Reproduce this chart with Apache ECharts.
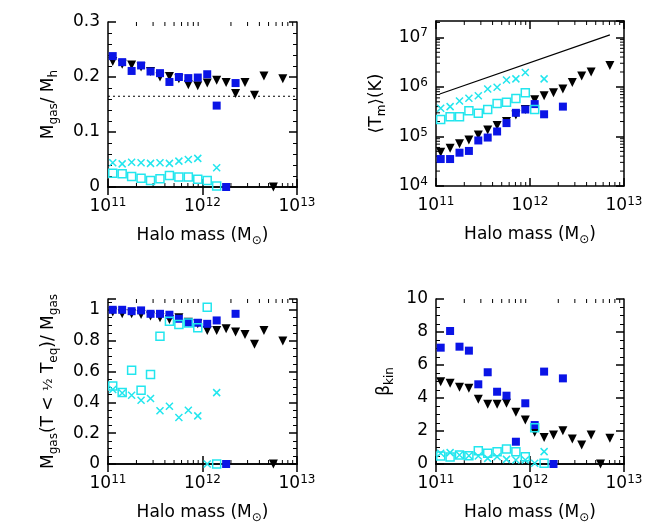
<!DOCTYPE html>
<html>
<head>
<meta charset="UTF-8">
<script src="https://cdn.jsdelivr.net/npm/echarts@6/dist/echarts.min.js"></script>
<style>
  body { margin: 0; background: #fff; }
  #chart { width: 660px; height: 529px; }
</style>
</head>
<body>
<div id="chart"></div>
<script>
// halo mass bins, log10(M/Msun)
var logMass = [11.05, 11.15, 11.25, 11.35, 11.45, 11.55, 11.65, 11.75, 11.85, 11.95,
               12.05, 12.15, 12.25, 12.35, 12.45, 12.55, 12.65, 12.75, 12.85];

// panel 1: Mgas / Mh
var fgasTri   = [0.228, 0.223, 0.222, 0.218, 0.210, 0.200, 0.201, 0.197, 0.186, 0.184, 0.189, 0.194, 0.190, 0.170, 0.190, 0.167, 0.202, 0.0, 0.197];
var fgasBlue  = [0.238, 0.227, 0.211, 0.221, 0.210, 0.207, 0.191, 0.200, 0.198, 0.199, 0.205, 0.148, 0.0, 0.189];
var fgasCross = [0.044, 0.042, 0.045, 0.044, 0.043, 0.044, 0.043, 0.047, 0.050, 0.052, null, 0.035];
var fgasOpen  = [0.025, 0.024, 0.019, 0.016, 0.012, 0.015, 0.021, 0.018, 0.018, 0.014, 0.012, 0.002];
var baryonFrac = 0.165;

// panel 2: <Tm> (K)
var tTri   = [4.8e4, 5.8e4, 7.1e4, 8.5e4, 1.07e5, 1.35e5, 1.66e5, 2.0e5, 2.7e5, 3.5e5, 5.5e5, 6.6e5, 7.6e5, 9.1e5, 1.23e6, 1.66e6, 2.0e6, null, 2.7e6];
var tBlue  = [3.5e4, 3.5e4, 4.7e4, 5.1e4, 8.3e4, 9.5e4, 1.26e5, 1.86e5, 3.0e5, 3.5e5, 4.5e5, 2.8e5, null, 4.0e5];
var tCross = [3.7e5, 4.0e5, 5.2e5, 5.9e5, 6.6e5, 9.1e5, 9.8e5, 1.38e6, 1.45e6, 1.95e6, null, 1.45e6];
var tOpen  = [2.2e5, 2.5e5, 2.5e5, 3.3e5, 2.95e5, 3.5e5, 4.6e5, 4.9e5, 5.8e5, 7.6e5, 3.5e5];
var tVirMass = [11.04, 12.85];
var tVir     = [7.2e5, 1.12e7];

// panel 3: Mgas(T < Teq/2) / Mgas
var coldTri   = [0.985, 0.974, 0.974, 0.970, 0.959, 0.948, 0.937, 0.948, 0.920, 0.909, 0.866, 0.866, 0.877, 0.856, 0.840, 0.776, 0.866, 0.0, 0.797];
var coldBlue  = [1.0, 1.0, 0.991, 0.996, 0.974, 0.974, 0.968, 0.942, 0.916, 0.916, 0.909, 0.931, 0.0, 0.974];
var coldCross = [0.483, 0.461, 0.446, 0.414, 0.425, 0.345, 0.375, 0.302, 0.349, 0.312, 0.0, 0.463];
var coldOpen  = [0.506, 0.463, 0.608, 0.478, 0.580, 0.828, 0.925, 0.905, 0.914, 0.884, 1.017, 0.0];

// panel 4: beta_kin
var betaTri   = [4.99, 4.89, 4.65, 4.59, 3.92, 3.62, 3.62, 3.68, 3.13, 2.67, 1.92, 1.60, 1.76, 2.02, 1.52, 1.15, 1.76, 0.0, 1.56];
var betaBlue  = [7.05, 8.06, 7.11, 6.87, 4.83, 5.56, 4.38, 4.14, 1.35, 3.68, 2.36, 5.60, 0.0, 5.19];
var betaCross = [0.65, 0.69, 0.55, 0.50, 0.48, 0.34, 0.44, 0.28, 0.24, 0.24, 0.04, 0.75];
var betaOpen  = [0.48, 0.42, 0.55, 0.50, 0.81, 0.65, 0.75, 0.91, 0.75, 0.44, 2.20, 0.04];

var FONT = 'DejaVu Sans';
var CYAN = '#22e6ee', BLUE = '#0a14e6';
var crossPath = 'path://M0,0L10,10M10,0L0,10';
var sup = { fontSize: 12, verticalAlign: 'top', padding: [0, 0, 8, 0], fontFamily: FONT, color: '#000' };
var sub = { fontSize: 12, verticalAlign: 'bottom', padding: [10, 0, 0, 0], fontFamily: FONT, color: '#000' };

var grids = [
  { left: 108, top: 22, width: 189, height: 165 },
  { left: 436, top: 21, width: 188, height: 165 },
  { left: 108, top: 299, width: 189, height: 165 },
  { left: 436, top: 299, width: 188, height: 165 }
];

function log10(v) { return v == null ? null : Math.log10(v); }
function pairs(ys, isLog) {
  var out = [];
  for (var i = 0; i < ys.length; i++) {
    if (ys[i] == null) continue;
    out.push([logMass[i], isLog ? log10(ys[i]) : ys[i]]);
  }
  return out;
}

var xAxes = [], yAxes = [], series = [];
var yCfg = [
  { min: 0, max: 0.3, interval: 0.1, minor: 5, log: false, fmt: function (v) { return +v.toFixed(1) + ''; },
    name: 'M{s|gas}/ M{s|h}', gap: 48 },
  { min: 4, max: 7.33, interval: 1, log: true, fmt: function (v) { return '10{u|' + v + '}'; },
    name: '⟨T{s|m}⟩(K)', gap: 48 },
  { min: 0, max: 1.07, interval: 0.2, minor: 4, log: false, fmt: function (v) { return +v.toFixed(1) + ''; },
    name: 'M{s|gas}(T < {f|½} T{s|eq})/ M{s|gas}', gap: 48 },
  { min: 0, max: 10, interval: 2, minor: 4, log: false, fmt: function (v) { return v + ''; },
    name: 'β{s|kin}', gap: 40 }
];

for (var g = 0; g < 4; g++) {
  var c = yCfg[g];
  var lineStyle = { color: '#000', width: 1.5 };
  xAxes.push({
    gridIndex: g, type: 'value', min: 11, max: 13, interval: 1,
    name: 'Halo mass (M{s|⊙})', nameLocation: 'middle', nameGap: 38,
    nameTextStyle: { fontFamily: FONT, fontSize: 17, color: '#000', rich: { s: sub } },
    axisLine: { lineStyle: lineStyle }, splitLine: { show: false },
    axisTick: { inside: true, length: 8, lineStyle: lineStyle },
    axisLabel: { margin: 10, fontFamily: FONT, fontSize: 17, color: '#000',
      formatter: function (v) { return '10{u|' + v + '}'; }, rich: { u: sup } }
  });
  xAxes.push({
    gridIndex: g, type: 'value', min: 11, max: 13, interval: 1, position: 'top',
    axisLine: { lineStyle: lineStyle }, splitLine: { show: false },
    axisTick: { inside: true, length: 8, lineStyle: lineStyle }, axisLabel: { show: false }
  });
  var yBase = {
    gridIndex: g, type: 'value', min: c.min, max: c.max, interval: c.interval,
    axisLine: { lineStyle: lineStyle }, splitLine: { show: false },
    axisTick: { inside: true, length: 8, lineStyle: lineStyle },
    minorTick: c.minor ? { show: true, splitNumber: c.minor, length: 4, lineStyle: { color: '#000', width: 1 } } : { show: false },
    minorSplitLine: { show: false }
  };
  yAxes.push(Object.assign({}, yBase, {
    name: c.name, nameLocation: 'middle', nameGap: c.gap, nameRotate: 90,
    nameTextStyle: { fontFamily: FONT, fontSize: 17, color: '#000', rich: { s: sub, f: { fontSize: 13, fontFamily: FONT, color: '#000' } } },
    axisLabel: { margin: 8, fontFamily: FONT, fontSize: 17, color: '#000', formatter: c.fmt, rich: { u: sup },
      showMaxLabel: c.max === 0.3 || c.max === 10 }
  }));
  yAxes.push(Object.assign({}, yBase, { position: 'right', axisLabel: { show: false } }));
}

// log minor ticks drawn with a custom series
function minorTicks(axisIdx, yLog, yMin, yMax) {
  var ticks = [];
  for (var d = 11; d < 13; d++) for (var k = 2; k <= 9; k++) ticks.push([d + Math.log10(k), yAxes[axisIdx * 2].min, 0]);
  if (yLog) for (var e = Math.floor(yMin); e < yMax; e++) for (var m = 2; m <= 9; m++) {
    var v = e + Math.log10(m); if (v < yMax) ticks.push([11, v, 1]);
  }
  return {
    type: 'custom', xAxisIndex: axisIdx * 2, yAxisIndex: axisIdx * 2, silent: true, z: 1, clip: false,
    data: ticks,
    renderItem: function (params, api) {
      var cs = params.coordSys, L = 4, st = { stroke: '#000', lineWidth: 1 };
      var pt = api.coord([api.value(0), api.value(1)]);
      if (api.value(2) === 0) {
        var px = pt[0];
        return { type: 'group', children: [
          { type: 'line', shape: { x1: px, y1: cs.y + cs.height, x2: px, y2: cs.y + cs.height - L }, style: st },
          { type: 'line', shape: { x1: px, y1: cs.y, x2: px, y2: cs.y + L }, style: st }
        ] };
      }
      var py = pt[1];
      return { type: 'group', children: [
        { type: 'line', shape: { x1: cs.x, y1: py, x2: cs.x + L, y2: py }, style: st },
        { type: 'line', shape: { x1: cs.x + cs.width, y1: py, x2: cs.x + cs.width - L, y2: py }, style: st }
      ] };
    }
  };
}

var panels = [
  { tri: fgasTri, blue: fgasBlue, cross: fgasCross, open: fgasOpen, log: false },
  { tri: tTri, blue: tBlue, cross: tCross, open: tOpen, log: true },
  { tri: coldTri, blue: coldBlue, cross: coldCross, open: coldOpen, log: false },
  { tri: betaTri, blue: betaBlue, cross: betaCross, open: betaOpen, log: false }
];

panels.forEach(function (p, g) {
  var ax = g * 2;
  var base = { type: 'scatter', xAxisIndex: ax, yAxisIndex: ax, clip: false, silent: true };
  series.push(Object.assign({}, base, { data: pairs(p.tri, p.log), symbol: 'triangle', symbolRotate: 180, symbolSize: 9,
    itemStyle: { color: '#000', opacity: 1 } }));
  series.push(Object.assign({}, base, { data: pairs(p.blue, p.log), symbol: 'rect', symbolSize: 8,
    itemStyle: { color: BLUE, opacity: 1 } }));
  series.push(Object.assign({}, base, { data: pairs(p.cross, p.log), symbol: crossPath, symbolSize: 7,
    itemStyle: { color: 'none', borderColor: CYAN, borderWidth: 1.5, opacity: 1 } }));
  series.push(Object.assign({}, base, { data: pairs(p.open, p.log), symbol: 'rect', symbolSize: 8,
    itemStyle: { color: 'none', borderColor: CYAN, borderWidth: 1.5, opacity: 1 } }));
});

series.push({ type: 'line', xAxisIndex: 0, yAxisIndex: 0, symbol: 'none', silent: true,
  data: [[11, baryonFrac], [13, baryonFrac]], lineStyle: { color: '#000', width: 1.2, type: [2, 3] } });
series.push({ type: 'line', xAxisIndex: 2, yAxisIndex: 2, symbol: 'none', silent: true,
  data: tVirMass.map(function (m, i) { return [m, log10(tVir[i])]; }), lineStyle: { color: '#000', width: 1.2 } });

series.push(minorTicks(0, false));
series.push(minorTicks(1, true, 4, 7.33));
series.push(minorTicks(2, false));
series.push(minorTicks(3, false));

var chart = echarts.init(document.getElementById('chart'));
chart.setOption({
  animation: false,
  grid: grids,
  xAxis: xAxes,
  yAxis: yAxes,
  series: series
});
</script>
</body>
</html>
